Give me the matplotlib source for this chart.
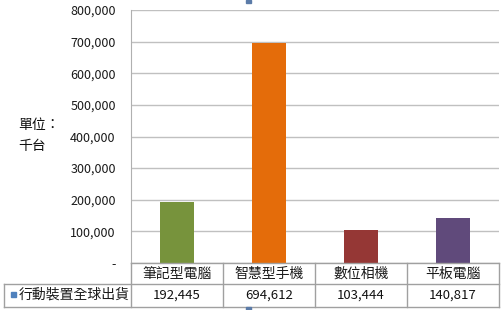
import matplotlib
matplotlib.use("Agg")
import matplotlib.pyplot as plt
import matplotlib.transforms as mtransforms
from matplotlib.patches import Rectangle

plt.rcParams['font.family'] = ['Noto Sans CJK TC', 'DejaVu Sans']

categories = ["筆記型電腦", "智慧型手機", "數位相機", "平板電腦"]
values = [192445, 694612, 103444, 140817]
colors = ["#77933C", "#E46C0A", "#953735", "#604A7B"]
series_name = "行動裝置全球出貨"
yticks = [0, 100000, 200000, 300000, 400000, 500000, 600000, 700000, 800000]

W, H = 503, 310
fig = plt.figure(figsize=(W / 100, H / 100), dpi=100)
L, R, T, B = 131, 499, 10, 263
ax = fig.add_axes([L / W, (H - B) / H, (R - L) / W, (B - T) / H])

x = list(range(len(categories)))
ax.bar(x, values, width=0.38, color=colors, zorder=3)
ax.set_xlim(-0.5, len(categories) - 0.5)
ax.set_ylim(0, 800000)
ax.set_yticks(yticks)
ax.set_yticklabels(["-" if v == 0 else f"{v:,}" for v in yticks], fontsize=9, color="#1a1a1a")
ax.tick_params(axis='y', length=0, pad=11)
ax.set_xticks([])
ax.grid(axis='y', color="#C0C0C0", linewidth=1, zorder=0)
for s in ["top", "right", "bottom"]:
    ax.spines[s].set_visible(False)
ax.spines["left"].set_color("#B0B0B0")

# unit label
fig.text(18 / W, 1 - 125 / H, "單位：", fontsize=10, va="center", ha="left", color="#111111")
fig.text(18 / W, 1 - 146 / H, "千台", fontsize=10, va="center", ha="left", color="#111111")

# data table below the axes
ah = B - T
r1 = -21 / ah
r2 = -44 / ah
trans = mtransforms.blended_transform_factory(ax.transData, ax.transAxes)
lc = "#A0A0A0"
xl = -0.5 - (L - 4) / ((R - L) / len(categories))
ax.plot([-0.5, len(categories) - 0.5], [0, 0], transform=trans, color=lc, lw=1, clip_on=False, zorder=4)
ax.plot([xl, len(categories) - 0.5], [r1, r1], transform=trans, color=lc, lw=1, clip_on=False)
ax.plot([xl, len(categories) - 0.5], [r2, r2], transform=trans, color=lc, lw=1, clip_on=False)
ax.plot([xl, xl], [r1, r2], transform=trans, color=lc, lw=1, clip_on=False)
for i in range(len(categories) + 1):
    xi = i - 0.5
    ax.plot([xi, xi], [0, r2], transform=trans, color=lc, lw=1, clip_on=False)
for i, (c, v) in enumerate(zip(categories, values)):
    ax.text(i, r1 / 2, c, transform=trans, ha="center", va="center", fontsize=10, color="#1a1a1a")
    ax.text(i, (r1 + r2) / 2, f"{v:,}", transform=trans, ha="center", va="center", fontsize=9.5, color="#111111")

fig.patches.append(Rectangle((11 / W, 1 - 297 / H), 5 / W, 5 / H, transform=fig.transFigure,
                             color="#4F81BD", figure=fig))
fig.text(19 / W, 1 - 295 / H, series_name, fontsize=10, va="center", ha="left", color="#1a1a1a")

# selection handles
fig.patches.append(Rectangle((246 / W, 1 - 3 / H), 5 / W, 3 / H, transform=fig.transFigure,
                             color="#5B7BA8", figure=fig))
fig.patches.append(Rectangle((246 / W, 0), 5 / W, 3 / H, transform=fig.transFigure,
                             color="#5B7BA8", figure=fig))

fig.savefig("out.png", dpi=100)
